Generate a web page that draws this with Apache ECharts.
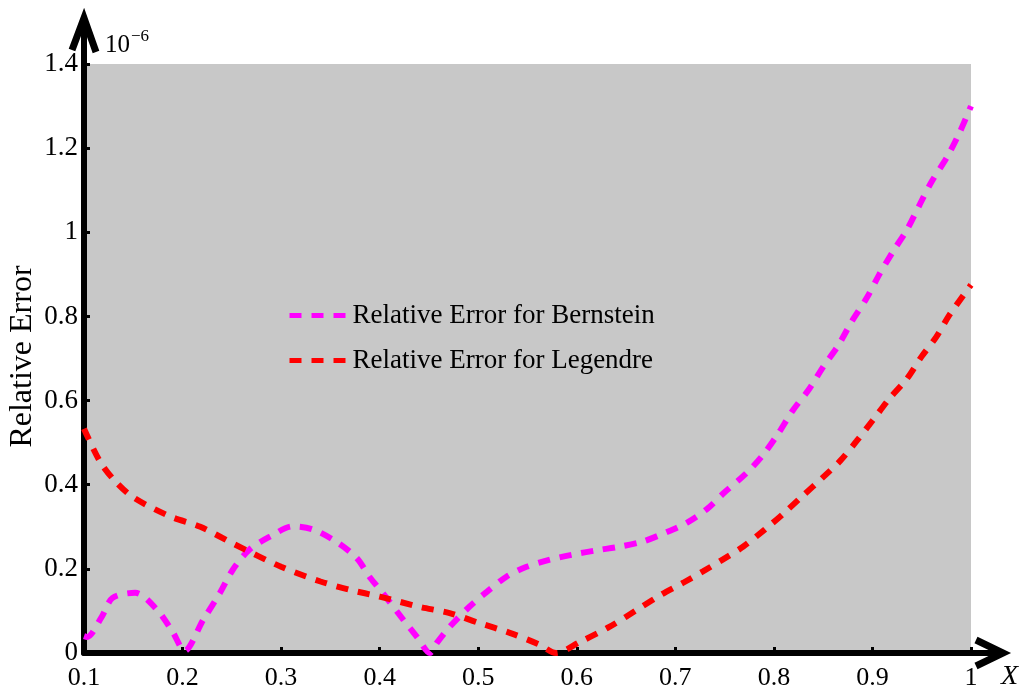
<!DOCTYPE html>
<html>
<head>
<meta charset="utf-8">
<script src="https://cdn.jsdelivr.net/npm/echarts@6/dist/echarts.min.js"></script>
<style>
  html, body { margin: 0; padding: 0; background: #ffffff; }
  #chart { width: 1027px; height: 693px; }
</style>
</head>
<body>
<div id="chart"></div>
<script>
// Relative error (×10^-6) of the two approximations over x in [0.1, 1]
const bernsteinX = [0.10, 0.103, 0.118, 0.129, 0.152, 0.174, 0.19, 0.202, 0.221, 0.238, 0.251, 0.268, 0.289, 0.312, 0.332, 0.357, 0.377, 0.39, 0.403, 0.424, 0.438, 0.451,
  0.458, 0.471, 0.491, 0.509, 0.529, 0.549, 0.573, 0.596, 0.62, 0.644, 0.667, 0.691, 0.712, 0.732, 0.75, 0.771, 0.788, 0.804, 0.819, 0.836, 0.85,
  0.865, 0.879, 0.894, 0.907, 0.921, 0.935, 0.948, 0.96, 0.976, 0.989, 1.0];
const bernsteinY = [0.04, 0.038, 0.086, 0.131, 0.143, 0.103, 0.05, 0.005, 0.079, 0.143, 0.198, 0.246, 0.277, 0.301, 0.294, 0.263, 0.225, 0.18, 0.143, 0.079, 0.038, 0.0,
  0.024, 0.062, 0.11, 0.146, 0.182, 0.205, 0.222, 0.234, 0.244, 0.253, 0.265, 0.287, 0.31, 0.342, 0.382, 0.425, 0.468, 0.52, 0.576, 0.628, 0.68,
  0.73, 0.788, 0.843, 0.9, 0.955, 1.006, 1.066, 1.12, 1.18, 1.24, 1.30];

const legendreX = [0.10, 0.116, 0.131, 0.15, 0.187, 0.218, 0.253, 0.30, 0.34, 0.37, 0.40, 0.44, 0.471, 0.50, 0.532, 0.562, 0.579,
  0.603, 0.633, 0.666, 0.686, 0.708, 0.728, 0.748, 0.769, 0.791, 0.809, 0.829, 0.85, 0.867, 0.884, 0.90, 0.917, 0.935, 0.95, 0.965, 0.978, 1.0];
const legendreY = [0.533, 0.456, 0.41, 0.37, 0.325, 0.30, 0.258, 0.205, 0.17, 0.15, 0.134, 0.11, 0.095, 0.072, 0.048, 0.02, 0.0,
  0.026, 0.062, 0.11, 0.139, 0.167, 0.194, 0.222, 0.253, 0.294, 0.33, 0.373, 0.418, 0.456, 0.504, 0.552, 0.604, 0.652, 0.705, 0.752, 0.803, 0.875];

const xTicks = [0.1, 1.0, 0.1];   // min, max, step
const yTicks = [0, 1.4, 0.2];
const seriesNames = ['Relative Error for Bernstein', 'Relative Error for Legendre'];
const yTitle = 'Relative Error';

const pairs = (xs, ys) => xs.map((x, i) => [x, ys[i]]);
const SERIF = '"Liberation Serif", "DejaVu Serif", serif';
const tickText = v => String(Math.round(v * 10) / 10);

const chart = echarts.init(document.getElementById('chart'));

const option = {
  animation: false,
  grid: {
    left: 84, right: 56, top: 64, bottom: 40,
    outerBoundsMode: 'none', containLabel: false,
    show: true, backgroundColor: '#c8c8c8', borderWidth: 0
  },
  legend: {
    orient: 'vertical',
    left: 282, top: 297,
    itemWidth: 58, itemHeight: 14, itemGap: 18,
    textStyle: { fontFamily: SERIF, fontSize: 27, color: '#000', lineHeight: 27 },
    lineStyle: { width: 5 },
    itemStyle: { opacity: 0 },
    data: seriesNames
  },
  xAxis: {
    type: 'value',
    min: xTicks[0], max: xTicks[1], interval: xTicks[2],
    axisLine: { show: true, onZero: false, lineStyle: { color: '#000', width: 6 } },
    axisTick: { show: true, inside: true, length: 6, lineStyle: { color: '#000', width: 3 } },
    axisLabel: { fontFamily: SERIF, fontSize: 26, color: '#000', margin: 12, formatter: tickText },
    splitLine: { show: false }
  },
  yAxis: {
    type: 'value',
    min: yTicks[0], max: yTicks[1], interval: yTicks[2],
    axisLine: { show: true, onZero: false, lineStyle: { color: '#000', width: 6 } },
    axisTick: { show: true, inside: true, length: 6, lineStyle: { color: '#000', width: 3 } },
    axisLabel: { fontFamily: SERIF, fontSize: 27, color: '#000', margin: 6, formatter: tickText },
    splitLine: { show: false }
  },
  series: [
    {
      name: seriesNames[0], type: 'line', smooth: 0.3, showSymbol: false, symbol: 'none',
      data: pairs(bernsteinX, bernsteinY),
      itemStyle: { color: '#ff00ff' },
      lineStyle: { color: '#ff00ff', width: 6, type: [12, 10], cap: 'butt' },
      z: 3
    },
    {
      name: seriesNames[1], type: 'line', smooth: 0.3, showSymbol: false, symbol: 'none',
      data: pairs(legendreX, legendreY),
      itemStyle: { color: '#ff0000' },
      lineStyle: { color: '#ff0000', width: 6, type: [12, 10], cap: 'butt' },
      z: 3
    }
  ]
};
chart.setOption(option);

// Arrow-headed axis extensions, axis title, exponent marker and x-axis symbol,
// placed relative to where the axes actually end.
const origin = chart.convertToPixel({ gridIndex: 0 }, [xTicks[0], yTicks[0]]);
const corner = chart.convertToPixel({ gridIndex: 0 }, [xTicks[1], yTicks[1]]);
const ax = origin[0], ay = origin[1];
const xEnd = corner[0], yEnd = corner[1];
const axisStroke = { stroke: '#000', lineWidth: 6, fill: null, lineJoin: 'miter' };

chart.setOption({
  graphic: [
    { type: 'line', shape: { x1: ax, y1: yEnd + 2, x2: ax, y2: 20 }, style: axisStroke, z: 10 },
    { type: 'polyline', shape: { points: [[ax - 12, 50], [ax, 18], [ax + 12, 52]] }, style: Object.assign({}, axisStroke, { lineWidth: 7 }), z: 10 },
    { type: 'line', shape: { x1: xEnd - 2, y1: ay, x2: 1000, y2: ay }, style: axisStroke, z: 10 },
    { type: 'polyline', shape: { points: [[976, ay - 13], [1003, ay], [976, ay + 13]] }, style: Object.assign({}, axisStroke, { lineWidth: 7 }), z: 10 },
    {
      type: 'text', x: ax - 61, y: (ay + yEnd) / 2 - 2, rotation: Math.PI / 2, z: 10,
      style: { text: yTitle, fontFamily: SERIF, fontSize: 32, fill: '#000', align: 'center', verticalAlign: 'middle' }
    },
    {
      type: 'text', left: ax + 21, top: 28, z: 10,
      style: {
        text: '{b|10}{s|−6}',
        rich: {
          b: { fontFamily: SERIF, fontSize: 25, fill: '#000', verticalAlign: 'bottom', lineHeight: 30 },
          s: { fontFamily: SERIF, fontSize: 17, fill: '#000', verticalAlign: 'top', lineHeight: 30, padding: [0, 0, 14, 1] }
        }
      }
    },
    {
      type: 'text', left: 1001, top: ay + 10, z: 10,
      style: { text: 'X', fontFamily: SERIF, fontStyle: 'italic', fontSize: 28, fill: '#000' }
    }
  ]
});
</script>
</body>
</html>
